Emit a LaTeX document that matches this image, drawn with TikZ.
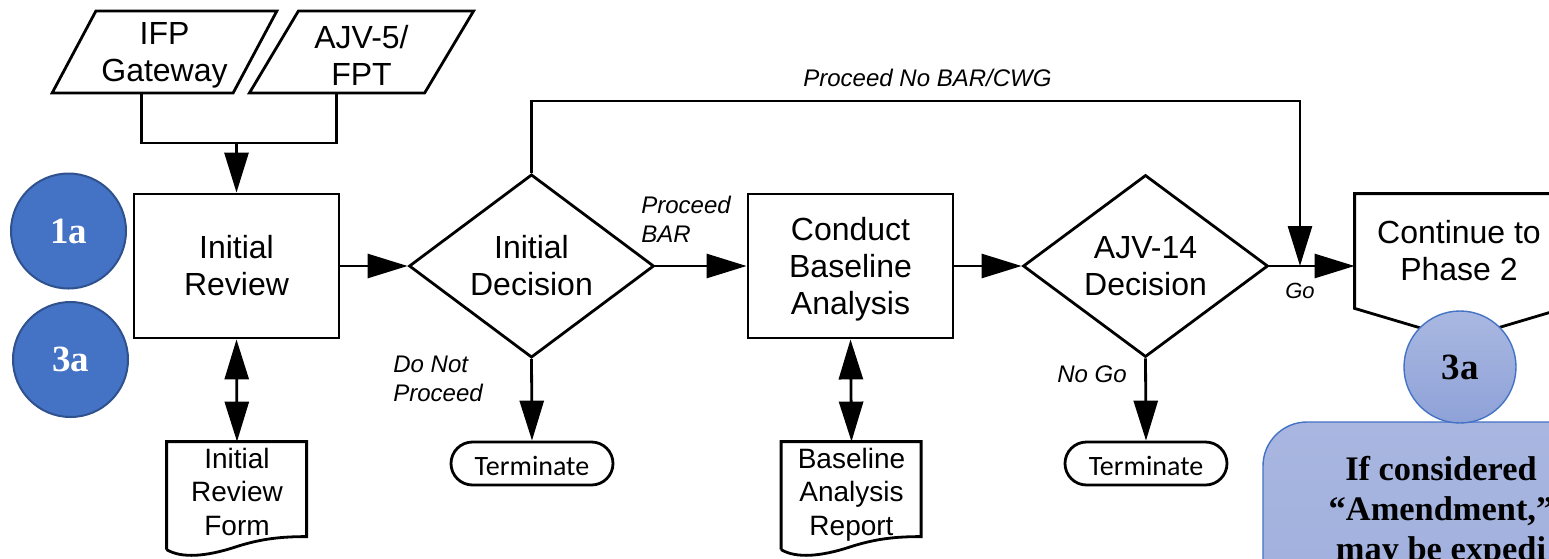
\documentclass[tikz,border=0pt]{standalone}
\usepackage{fontspec}
\setmainfont{Liberation Sans}
\newfontfamily\tnr{Liberation Serif}
\newfontfamily\calib{Carlito}
\usetikzlibrary{shapes.geometric,arrows.meta,calc}
\definecolor{cdark}{HTML}{4472C4}
\definecolor{cdarkb}{HTML}{2F528F}
\definecolor{clt}{HTML}{A9B8E1}
\definecolor{clb}{HTML}{8FA2D8}
\definecolor{cnt}{HTML}{A8B6E0}
\definecolor{cnb}{HTML}{9CACDB}
\newcommand{\upstrut}{\rule{0pt}{14.5pt}}
\begin{document}
\begin{tikzpicture}[x=0.5pt,y=-0.5pt,
  ln/.style={line width=1.4pt},
  arr/.style={ln,-{Triangle[length=20pt,width=12pt]}},
  darr/.style={ln,{Triangle[length=20pt,width=12pt]}-{Triangle[length=20pt,width=12pt]}},
  mainfont/.style={font=\fontsize{16}{18.5}\selectfont},
  para/.style={trapezium,trapezium left angle=61,trapezium right angle=119,trapezium stretches=true,
    draw,ln,minimum width=112.5pt,minimum height=41pt,inner sep=0pt,align=center,mainfont},
  procbox/.style={draw,ln,minimum width=102.5pt,minimum height=72pt,inner sep=0pt,align=center,mainfont},
  decbox/.style={diamond,draw,ln,minimum width=122.5pt,minimum height=90pt,inner sep=0pt,align=center,mainfont},
  termbox/.style={draw,ln,rounded corners=10.75pt,minimum width=81pt,minimum height=21.5pt,inner sep=0pt,
    text height=12pt,text depth=0pt,font=\calib\fontsize{14}{16}\selectfont},
  docbox/.style={minimum width=70pt,inner sep=0pt,align=center,font=\fontsize{14}{16.75}\selectfont},
  contbox/.style={minimum width=104pt,minimum height=57pt,inner sep=0pt,align=center,mainfont},
  lbl/.style={inner sep=0pt,align=left,font=\itshape\fontsize{12}{14.5}\selectfont},
  dcirc/.style={circle,fill=cdark,draw=cdarkb,line width=1pt,minimum size=57.5pt,inner sep=0pt,
    text=white,font=\tnr\bfseries\fontsize{18.5}{20}\selectfont},
  lcirc/.style={circle,top color=clt,bottom color=clb,draw=cdark,line width=0.7pt,minimum size=56pt,inner sep=0pt,
    text=black,font=\tnr\bfseries\fontsize{18.5}{20}\selectfont},
  notebox/.style={rectangle,rounded corners=22pt,top color=cnt,bottom color=cnb,draw=cdark,line width=0.7pt,
    minimum width=243.5pt,minimum height=139pt},
  notetext/.style={inner sep=0pt,align=center,font=\tnr\bfseries\fontsize{17.2}{20}\selectfont}
]
\useasboundingbox (0,0) rectangle (1549,558);
\clip (0,0) rectangle (1549,558);

% inputs
\node[para] (ifp) at (164.5,52) {\upstrut IFP\\Gateway};
\node[para] (ajv) at (361.5,52) {\upstrut AJV-5/\\FPT};

% process boxes and decisions
\node[procbox] (irev) at (236.5,266) {Initial\\Review};
\node[decbox] (idec) at (531.5,266) {Initial\\Decision};
\node[procbox] (cba) at (850.5,266) {\upstrut Conduct\\Baseline\\Analysis};
\node[decbox] (adec) at (1145.5,266) {AJV-14\\Decision};

% terminators
\node[termbox] (t1) at (532,463.5) {Terminate};
\node[termbox] (t2) at (1146,463.5) {Terminate};

% documents
\node[docbox,minimum height=49.5pt] (irf) at (237,491.5) {Initial\\Review\\Form};
\node[docbox,minimum height=52.5pt] (bar) at (851.5,494.5) {Baseline\\Analysis\\Report};
\foreach \d in {irf,bar}{
  \begin{scope}[shift={(\d.north west)}]
    \draw[ln] (0,108) -- (0,0) -- (140,0) -- (140,95)
      .. controls (115,95) and (95,97) .. (70,105)
      .. controls (40,115) and (15,117) .. (0,108);
  \end{scope}
}

% off-page connector
\node[contbox] (cont) at (1459,251) {Continue to\\Phase 2};
\draw[ln] (cont.north west) -- (cont.north east) -- (cont.south east)
  -- ($(cont.south)+(0,31)$) -- (cont.south west) -- cycle;

% circles and note
\node[dcirc] (c1) at (68.5,231) {1a};
\node[dcirc] (c3) at (70.5,359.5) {3a};
\node[notebox] (nb) at (1506.5,561) {};
\node[lcirc] (c3r) at (1460,367) {3a};
\node[notetext,anchor=north] (note) at (1441,456) {If considered\\“Amendment,”\\may be expedi};

% connectors
\coordinate (mrg) at (236.5,143);
\draw[ln] (ifp.bottom side) |- (mrg) -| (ajv.bottom side);
\draw[arr] (mrg) -- (irev.north);
\draw[arr] (irev.east) -- (idec.west);
\draw[arr] (idec.east) -- (cba.west);
\draw[arr] (cba.east) -- (adec.west);
\draw[arr] (adec.east) -- (adec.east -| cont.west);
\draw[arr] (idec.south) -- (t1.north);
\draw[arr] (adec.south) -- (t2.north);
\draw[darr] (irev.south) -- (irf.north);
\draw[darr] (cba.south) -- (bar.north);
\coordinate (topR) at (1300,101);
\coordinate (goJ) at (1300,266);
\draw[arr] (idec.north) |- (topR) -- (goJ);

% labels
\node[lbl,anchor=base west] (lnb) at (803,86) {Proceed No BAR/CWG};
\node[lbl,anchor=north west] (lpb) at (641,195.5) {Proceed\\BAR};
\node[lbl,anchor=north west] (ldnp) at (393,356) {Do Not\\Proceed};
\node[lbl,anchor=base west] (lng) at (1057,382) {No Go};
\node[lbl,anchor=base,font=\itshape\fontsize{11}{13}\selectfont] (lgo) at (1300,298) {Go};
\end{tikzpicture}
\end{document}
